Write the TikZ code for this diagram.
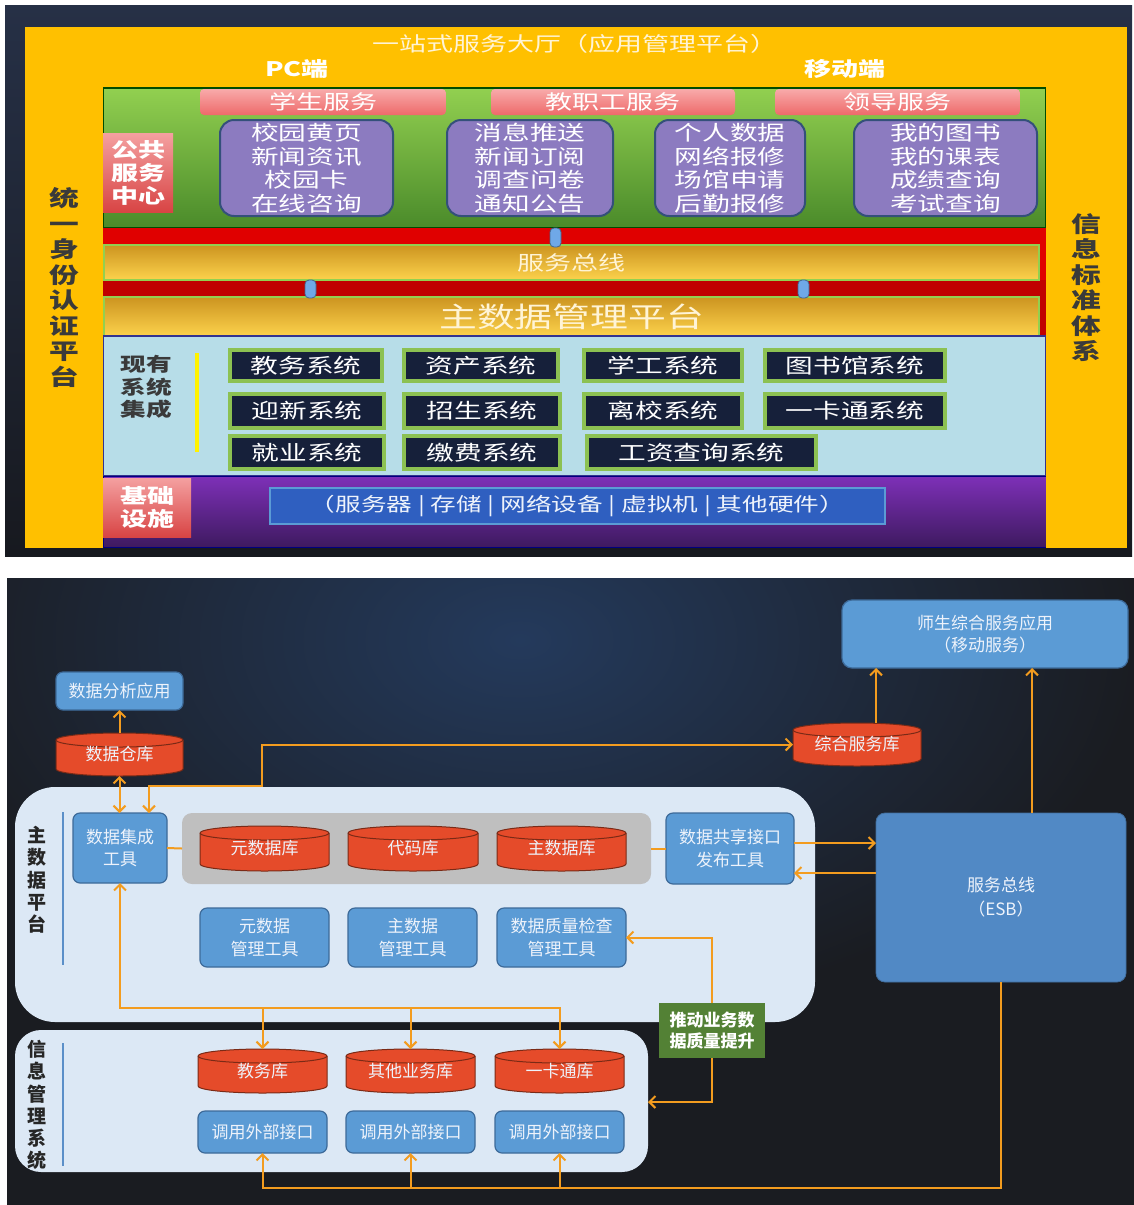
\documentclass[tikz,border=0pt]{standalone}
\usepackage{fontspec}
\setmainfont{Noto Sans CJK SC}
\newfontfamily\widefont[FakeStretch=1.35]{Noto Sans CJK SC}
\usetikzlibrary{arrows.meta}
\definecolor{ygold}{HTML}{FFC000}
\definecolor{gtop}{HTML}{92D050}
\definecolor{gbot}{HTML}{4A8A2A}
\definecolor{pinkt}{HTML}{F8AAAA}
\definecolor{pinkb}{HTML}{EE6A6A}
\definecolor{pubt}{HTML}{F4A0A0}
\definecolor{pubb}{HTML}{D84444}
\definecolor{purp}{HTML}{8C7BC0}
\definecolor{purpedge}{HTML}{34507A}
\definecolor{redbar}{HTML}{E00000}
\definecolor{redbarb}{HTML}{C00000}
\definecolor{goldt}{HTML}{CC9420}
\definecolor{goldb}{HTML}{FCD24C}
\definecolor{ltblue}{HTML}{B7DDE8}
\definecolor{sysfill}{HTML}{16203A}
\definecolor{sysedge}{HTML}{8CC152}
\definecolor{purpt}{HTML}{7E30B8}
\definecolor{purpb}{HTML}{3E1A60}
\definecolor{infra}{HTML}{2F5FC0}
\definecolor{infraedge}{HTML}{5B9BD5}
\definecolor{capb}{HTML}{6FA8E8}
\definecolor{darktxt}{HTML}{3A3A3A}
\definecolor{lighttxt}{HTML}{FFF4D6}
\definecolor{topbgt}{HTML}{263046}
\definecolor{topbgb}{HTML}{17191F}
\definecolor{bgdark}{HTML}{1A1C21}
\definecolor{bgnavy}{HTML}{243A5C}
\definecolor{bfill}{HTML}{5B9BD5}
\definecolor{bedge}{HTML}{3D6A99}
\definecolor{cylfill}{HTML}{E54B2A}
\definecolor{cyledge}{HTML}{7A2A16}
\definecolor{panelc}{HTML}{DCE8F5}
\definecolor{grayarea}{HTML}{BFBFBF}
\definecolor{orng}{HTML}{F39C1F}
\definecolor{glabc}{HTML}{538135}
\definecolor{esbfill}{HTML}{5189C5}
\definecolor{btxt}{HTML}{EEF3FB}
\definecolor{vlinec}{HTML}{5B8FC8}

\newcommand\boxat[7]{%
  \pgfmathsetmacro\myw{#5-#3}%
  \pgfmathsetmacro\myh{#6-#4}%
  \pgfmathsetmacro\myx{(#3+#5)/2}%
  \pgfmathsetmacro\myy{(#4+#6)/2}%
  \node[inner sep=0pt, outer sep=0pt, minimum width=\myw pt, minimum height=\myh pt, align=center, #1] (#2) at (\myx,\myy) {#7};}

\newcommand\dbnode[6]{%
  \pgfmathsetmacro\myrx{(#4-#2)/2}%
  \pgfmathsetmacro\myyt{#3+7}%
  \pgfmathsetmacro\myyb{#5-7}%
  \filldraw[cylbody] (#2,\myyt) -- (#2,\myyb) arc[start angle=180,end angle=360,x radius=\myrx pt,y radius=7pt] -- (#4,\myyt) arc[start angle=0,end angle=180,x radius=\myrx pt,y radius=7pt] -- cycle;
  \draw[cylrim] (#2,\myyt) arc[start angle=180,end angle=360,x radius=\myrx pt,y radius=7pt];
  \boxat{cyltext}{#1}{#2}{#3}{#4}{#5}{\raisebox{-4pt}{#6}}}

\tikzset{
  ybar/.style={fill=ygold, text=darktxt, font=\widefont\bfseries\fontsize{22}{25.5}\selectfont},
  tab/.style={rounded corners=4pt, top color=pinkt, bottom color=pinkb, text=white, font=\widefont\fontsize{20}{23}\selectfont},
  pubbox/.style={top color=pubt, bottom color=pubb, text=white, font=\widefont\bfseries\fontsize{20}{23}\selectfont},
  pbox/.style={rounded corners=14pt, fill=purp, draw=purpedge, line width=2pt, text=white, font=\widefont\fontsize{20.5}{23.5}\selectfont},
  band/.style={top color=goldt, bottom color=goldb, draw=gtop, line width=2.5pt, text=lighttxt, font=\widefont},
  capsule/.style={rounded corners=4pt, fill=capb, draw=capb!60!black, line width=0.8pt},
  sysbox/.style={fill=sysfill, draw=sysedge, line width=4.5pt, text=white, font=\widefont\fontsize{20.5}{22}\selectfont},
  infrabar/.style={fill=infra, draw=infraedge, line width=1.2pt, text=btxt, font=\widefont\fontsize{19}{21}\selectfont},
  bbox/.style={rounded corners=7pt, fill=bfill, draw=bedge, line width=1.2pt, text=btxt, font=\fontsize{17}{22.5}\selectfont},
  esbst/.style={rounded corners=9pt, fill=esbfill, draw=esbfill!80!black, line width=0.8pt, text=btxt, font=\fontsize{17}{24}\selectfont},
  panelst/.style={fill=panelc, draw=none},
  grayst/.style={rounded corners=10pt, fill=grayarea},
  glabst/.style={fill=glabc, text=white, font=\bfseries\fontsize{17}{21}\selectfont},
  cylbody/.style={fill=cylfill, draw=cyledge, line width=1pt},
  cylrim/.style={draw=cyledge, line width=1pt},
  cyltext/.style={text=btxt, font=\fontsize{17}{20}\selectfont},
  vlabel/.style={text=black!85, font=\bfseries\fontsize{19}{22.3}\selectfont, align=center},
  vline/.style={draw=vlinec, line width=1.5pt},
  oline/.style={draw=orng, line width=2pt},
  oarr/.style={oline, >={Straight Barb[length=6pt,width=12pt]}},
}

\begin{document}
\begin{tikzpicture}[x=1pt,y=-1pt]
\useasboundingbox (0,0) rectangle (1134,1205);
\fill[white] (0,0) rectangle (1134,1205);

% ================= TOP PANEL =================
\shade[top color=topbgt, bottom color=topbgb] (5,5) rectangle (1132,556);

\boxat{fill=ygold}{topband}{103}{27}{1046}{88}{}
\node[text=lighttxt, font=\widefont\fontsize{20}{22}\selectfont] (title) at (575,44) {一站式服务大厅（应用管理平台）};
\node[text=white, font=\widefont\bfseries\fontsize{20}{22}\selectfont] (pc) at (297,69) {PC端};
\node[text=white, font=\widefont\bfseries\fontsize{20}{22}\selectfont] (mob) at (845,69) {移动端};

\boxat{top color=gtop, bottom color=gbot, draw=black!70!green, line width=1.2pt}{greenreg}{103}{88}{1046}{228}{}
\boxat{tab}{t1}{200}{89}{446}{115}{学生服务}
\boxat{tab}{t2}{491}{89}{735}{115}{教职工服务}
\boxat{tab}{t3}{775}{89}{1020}{115}{领导服务}

\boxat{pubbox}{pub}{103}{133}{173}{212}{公共\\服务\\中心}

\boxat{pbox}{p1}{220}{120}{393}{216}{校园黄页\\新闻资讯\\校园卡\\在线咨询}
\boxat{pbox}{p2}{447}{120}{613}{216}{消息推送\\新闻订阅\\调查问卷\\通知公告}
\boxat{pbox}{p3}{655}{120}{805}{216}{个人数据\\网络报修\\场馆申请\\后勤报修}
\boxat{pbox}{p4}{854}{120}{1037}{216}{我的图书\\我的课表\\成绩查询\\考试查询}

\fill[redbar] (103,228) rectangle (1046,280);
\fill[redbarb] (103,280) rectangle (1046,336);
\boxat{band}{busband}{104}{245}{1039}{280}{\fontsize{20}{22}\selectfont 服务总线}
\boxat{band}{mdband}{104}{297}{1039}{336}{\fontsize{28}{30}\selectfont 主数据管理平台}
\boxat{capsule}{c1}{550}{228}{561}{247}{}
\boxat{capsule}{c2}{305}{280}{316}{298}{}
\boxat{capsule}{c3}{798}{280}{809}{298}{}

\boxat{fill=ltblue, draw=black!40!blue!60!gray, line width=1.2pt}{sysreg}{103}{336}{1046}{476}{}
\node[text=darktxt, align=center, font=\widefont\bfseries\fontsize{19}{22.5}\selectfont] (xy) at (146,387) {现有\\系统\\集成};
\draw[yellow, line width=4pt] (197,353) -- (197,452);

\boxat{sysbox}{s1}{230}{350}{382}{381}{教务系统}
\boxat{sysbox}{s2}{404}{350}{558}{381}{资产系统}
\boxat{sysbox}{s3}{584}{350}{742}{381}{学工系统}
\boxat{sysbox}{s4}{765}{350}{945}{381}{图书馆系统}
\boxat{sysbox}{s5}{230}{394}{384}{428}{迎新系统}
\boxat{sysbox}{s6}{404}{394}{560}{428}{招生系统}
\boxat{sysbox}{s7}{584}{394}{742}{428}{离校系统}
\boxat{sysbox}{s8}{765}{394}{945}{428}{一卡通系统}
\boxat{sysbox}{s9}{230}{436}{384}{469}{就业系统}
\boxat{sysbox}{s10}{404}{436}{560}{469}{缴费系统}
\boxat{sysbox}{s11}{587}{436}{816}{469}{工资查询系统}

\boxat{top color=purpt, bottom color=purpb, draw=black!50!blue, line width=1pt}{infrareg}{103}{476}{1046}{547}{}
\boxat{pubbox}{jc}{103}{478}{191}{537}{基础\\设施}
\boxat{infrabar}{hw}{270}{488}{885}{524}{（服务器 | 存储 | 网络设备 | 虚拟机 | 其他硬件）}

\boxat{ybar}{lbar}{25}{27}{103}{548}{统\\一\\身\\份\\认\\证\\平\\台}
\boxat{ybar}{rbar}{1046}{27}{1127}{548}{信\\息\\标\\准\\体\\系}

% ================= BOTTOM PANEL =================
\fill[bgdark] (7,578) rectangle (1134,1205);
\begin{scope}
\clip (7,578) rectangle (1134,1205);
\shade[inner color=bgnavy, outer color=bgdark] (520,640) ellipse [x radius=620pt, y radius=380pt];
\end{scope}

\boxat{panelst, rounded corners=40pt}{mainp}{15}{787}{815}{1022}{}
\boxat{panelst, rounded corners=26pt}{info}{15}{1030}{648}{1172}{}
\node[vlabel] (mlab) at (37,880) {主\\数\\据\\平\\台};
\node[vlabel] (ilab) at (37,1105) {信\\息\\管\\理\\系\\统};
\draw[vline] (63,812) -- (63,965);
\draw[vline] (63,1043) -- (63,1166);

\boxat{bbox}{dfa}{56}{672}{183}{710}{数据分析应用}
\dbnode{dwh}{56}{733}{183}{776}{数据仓库}

\boxat{bbox}{dji}{73}{813}{167}{883}{数据集成\\工具}
\boxat{grayst}{gray}{182}{813}{651}{884}{}
\dbnode{ysk}{200}{826}{329}{871}{元数据库}
\dbnode{dmk}{348}{826}{478}{871}{代码库}
\dbnode{zsk}{497}{826}{626}{871}{主数据库}
\boxat{bbox}{dsi}{666}{813}{794}{884}{数据共享接口\\发布工具}
\boxat{bbox}{ymt}{200}{908}{329}{967}{元数据\\管理工具}
\boxat{bbox}{zmt}{348}{908}{477}{967}{主数据\\管理工具}
\boxat{bbox}{dq}{497}{908}{626}{967}{数据质量检查\\管理工具}

\boxat{esbst}{esb}{876}{813}{1126}{982}{服务总线\\（ESB）}
\boxat{bbox, rounded corners=10pt}{app}{842}{600}{1128}{668}{师生综合服务应用\\（移动服务）}
\dbnode{zfk}{793}{723}{921}{766}{综合服务库}

\dbnode{jwk}{198}{1049}{327}{1093}{教务库}
\dbnode{qtk}{346}{1049}{475}{1093}{其他业务库}
\dbnode{yktk}{495}{1049}{624}{1093}{一卡通库}
\boxat{bbox}{if1}{198}{1111}{327}{1153}{调用外部接口}
\boxat{bbox}{if2}{346}{1111}{475}{1153}{调用外部接口}
\boxat{bbox}{if3}{495}{1111}{624}{1153}{调用外部接口}

% connectors
\draw[oarr,->] (dwh.north) -- (dwh.north |- dfa.south);
\draw[oarr,<->] (dwh.south) -- (dwh.south |- dji.north);
\draw[oarr,<->] (zfk.west) -| (262,786) -| (149,0 |- dji.north);
\draw[oarr,->] (876,0 |- zfk.north) -- (876,0 |- app.south);
\draw[oarr,->] (1032,0 |- esb.north) -- (1032,0 |- app.south);
\draw[oarr,->] (dsi.east |- 0,843) -- (esb.west |- 0,843);
\draw[oarr,->] (esb.west |- 0,873) -- (dsi.east |- 0,873);
\draw[oline] (dji.east) -- (gray.west);
\draw[oline] (gray.east) -- (dsi.west);
\draw[oarr,<->] (dji.south) |- (yktk.north |- 0,1008) -- (yktk.north);
\draw[oarr,->] (jwk.north |- 0,1008) -- (jwk.north);
\draw[oarr,->] (qtk.north |- 0,1008) -- (qtk.north);
\draw[oarr,->] (esb.south) |- (if1.south |- 0,1188) -- (if1.south);
\draw[oarr,->] (if2.south |- 0,1188) -- (if2.south);
\draw[oarr,->] (if3.south |- 0,1188) -- (if3.south);

\boxat{glabst}{gl}{659}{1003}{765}{1058}{推动业务数\\据质量提升}
\draw[oarr,->] (gl.north) |- (dq.east);
\draw[oarr,->] (gl.south) |- (info.east |- 0,1102);
\end{tikzpicture}
\end{document}
